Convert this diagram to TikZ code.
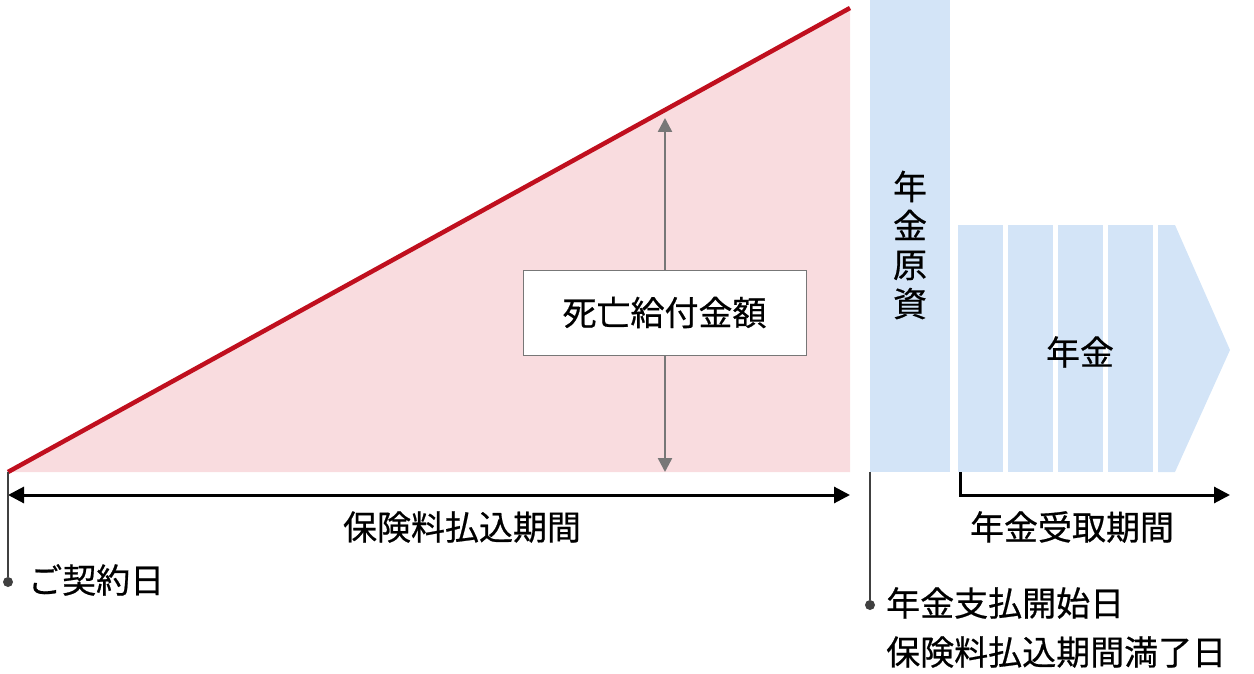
\documentclass[tikz,border=0pt]{standalone}
\usepackage{fontspec}
\setmainfont{Noto Sans CJK JP}[FakeBold=0.6]
\usetikzlibrary{arrows.meta}
\definecolor{pinkf}{HTML}{F9DCDF}
\definecolor{redl}{HTML}{C00F1E}
\definecolor{bluef}{HTML}{D3E4F7}
\definecolor{grayl}{HTML}{777777}
\tikzset{lbl/.style={font=\fontsize{34}{40}\selectfont, inner sep=0pt},
 blk/.style={fill=bluef, draw=none},
 dotc/.style={circle, fill=black!75, inner sep=0pt, minimum size=10pt}}
\begin{document}
\begin{tikzpicture}[x=1pt,y=-1pt]
\useasboundingbox (0,0) rectangle (1254,674);
\fill[pinkf] (8,472) -- (850,8) -- (850,472) -- cycle;
\draw[redl, line width=4.5pt] (8,472) -- (850,8);
\fill[bluef] (870,0) rectangle (950,472);
\node[lbl, align=center] (gk) at (910,245) {年\\[-1pt]金\\[-1pt]原\\[-1pt]資};
\fill[blk] (958,225) rectangle (1003,472);
\fill[blk] (1008,225) rectangle (1053,472);
\fill[blk] (1058,225) rectangle (1103,472);
\fill[blk] (1108,225) rectangle (1153,472);
\fill[blk] (1158,225) -- (1175,225) -- (1230,350) -- (1175,472) -- (1158,472) -- cycle;
\node[lbl] (nk) at (1080,352) {年金};
\coordinate (at) at (665,118);
\coordinate (ab) at (665,472);
\node[lbl, draw=grayl, line width=1pt, fill=white, minimum width=283pt, minimum height=85pt] (sb) at (664.5,312.5) {死亡給付金額};
\draw[grayl, line width=2.5pt, -{Triangle[length=14pt,width=14pt]}] (sb.north -| at) -- (at);
\draw[grayl, line width=2.5pt, -{Triangle[length=14pt,width=14pt]}] (sb.south -| at) -- (ab);
\coordinate (l1) at (8,495);
\coordinate (r1) at (850,495);
\draw[black, line width=3pt, {Triangle[length=16pt,width=16pt]}-{Triangle[length=16pt,width=16pt]}] (l1) -- (r1);
\node[lbl] (hk) at (462,527) {保険料払込期間};
\node[dotc] (d1) at (8,582) {};
\draw[black!75, line width=1.2pt] (8,472) -- (d1);
\node[lbl, anchor=west] (gy) at (28,580) {ご契約日};
\node[dotc] (d2) at (870,605) {};
\draw[black!75, line width=1.2pt] (870,472) -- (d2);
\node[lbl, anchor=west] (t1) at (886,603) {年金支払開始日};
\node[lbl, anchor=west] (t2) at (886,652) {保険料払込期間満了日};
\coordinate (b0) at (960,472);
\coordinate (b1) at (960,495);
\coordinate (b2) at (1230,495);
\draw[black, line width=3pt, -{Triangle[length=16pt,width=16pt]}] (b0) -- (b1) -- (b2);
\node[lbl] (uk) at (1072,527) {年金受取期間};
\end{tikzpicture}
\end{document}
